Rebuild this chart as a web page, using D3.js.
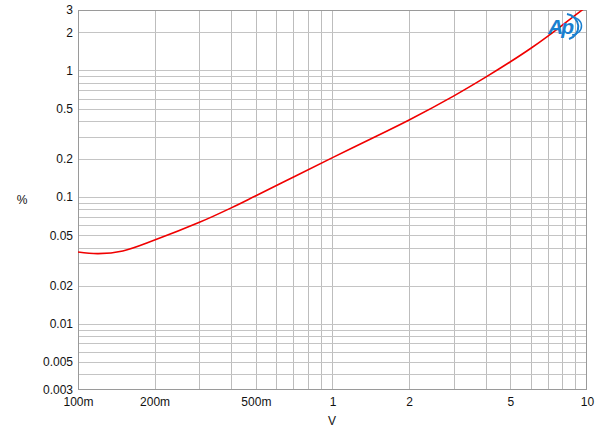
<!DOCTYPE html>
<html><head><meta charset="utf-8">
<script src="https://cdn.jsdelivr.net/npm/d3@7"></script>
<style>html,body{margin:0;padding:0;background:#fff;}svg{display:block;font-family:Arial,"Liberation Sans",sans-serif;}</style>
</head><body>
<svg id="c" width="600" height="435"></svg>
<script>
const voltage = [0.1, 0.12, 0.15, 0.2, 0.3, 0.4, 0.5, 0.7, 1, 1.5, 2, 3, 4, 5, 6, 7, 8, 9, 10];
const thdPercent = [0.0369, 0.0358, 0.0376, 0.0458, 0.0632, 0.0822, 0.1025, 0.1435, 0.205, 0.305, 0.406, 0.63, 0.885, 1.17, 1.49, 1.86, 2.28, 2.73, 3.21];
const xTickValues = [0.1, 0.2, 0.5, 1, 2, 5, 10];
const xTickLabels = ["100m", "200m", "500m", "1", "2", "5", "10"];
const yTickValues = [0.003, 0.005, 0.01, 0.02, 0.05, 0.1, 0.2, 0.5, 1, 2, 3];
const yTickLabels = ["0.003", "0.005", "0.01", "0.02", "0.05", "0.1", "0.2", "0.5", "1", "2", "3"];

const L = 78, R = 587, T = 10, B = 390;
const svg = d3.select("#c");
const x = d3.scaleLog().domain([0.1, 10]).range([L, R]);
const y = d3.scaleLog().domain([0.003, 3]).range([B, T]);

// grid values
const xGrid = [];
for (let d = 0.1; d < 10; d *= 10) for (let k = 1; k <= 9; k++) { const v = +(d * k).toPrecision(3); if (v > 0.1 && v < 10) xGrid.push(v); }
const yGrid = [];
for (let d = 0.001; d < 3; d *= 10) for (let k = 1; k <= 9; k++) { const v = +(d * k).toPrecision(3); if (v > 0.003 && v < 3) yGrid.push(v); }

const g = svg.append("g");
g.selectAll(".vx").data(xGrid).join("line")
  .attr("x1", d => Math.round(x(d)) + 0.5).attr("x2", d => Math.round(x(d)) + 0.5)
  .attr("y1", T).attr("y2", B).attr("stroke", "#bdbdbd").attr("stroke-width", 1);
g.selectAll(".hy").data(yGrid).join("line")
  .attr("y1", d => Math.round(y(d)) + 0.5).attr("y2", d => Math.round(y(d)) + 0.5)
  .attr("x1", L).attr("x2", R).attr("stroke", "#c4c4c4").attr("stroke-width", 1);

// frame
svg.append("rect").attr("x", L + 0.5).attr("y", T + 0.5).attr("width", R - L - 1).attr("height", B - T - 1)
  .attr("fill", "none").attr("stroke", "#9a9a9a").attr("stroke-width", 1);

// axes labels via d3 axes
const xAxis = d3.axisBottom(x).tickValues(xTickValues).tickFormat((d, i) => xTickLabels[i]).tickSize(0).tickPadding(7);
const xa = svg.append("g").attr("transform", `translate(0,${B})`).call(xAxis);
xa.select(".domain").remove();
xa.selectAll("text").attr("font-size", 12).attr("fill", "#111").attr("font-family", "Arial, 'Liberation Sans', sans-serif");

const yAxis = d3.axisLeft(y).tickValues(yTickValues).tickFormat((d, i) => yTickLabels[i]).tickSize(0).tickPadding(5);
const ya = svg.append("g").attr("transform", `translate(${L},0)`).call(yAxis);
ya.select(".domain").remove();
ya.selectAll("text").attr("font-size", 12).attr("fill", "#111").attr("font-family", "Arial, 'Liberation Sans', sans-serif");

svg.append("text").attr("x", 22).attr("y", 204).attr("text-anchor", "middle").attr("font-size", 12).attr("fill", "#111").text("%");
svg.append("text").attr("x", 332).attr("y", 425).attr("text-anchor", "middle").attr("font-size", 12).attr("fill", "#111").text("V");

// curve
svg.append("clipPath").attr("id", "clip").append("rect").attr("x", L).attr("y", T).attr("width", R - L).attr("height", B - T);
const line = d3.line().x((d, i) => x(voltage[i])).y(d => y(d)).curve(d3.curveCatmullRom.alpha(0.5));
svg.append("path").datum(thdPercent).attr("clip-path", "url(#clip)")
  .attr("d", line).attr("fill", "none").attr("stroke", "#f00000").attr("stroke-width", 1.6);

// logo
const logo = svg.append("g").attr("transform", "translate(565,27)");
logo.append("path").attr("d", "M 2,-13 A 14,13 0 0 1 4,12").attr("fill", "none").attr("stroke", "#1a7fcf").attr("stroke-width", 2);
logo.append("path").attr("d", "M 6,-10 A 10,9 0 0 1 7,8").attr("fill", "none").attr("stroke", "#1a7fcf").attr("stroke-width", 1.5);
logo.append("text").attr("x", -5).attr("y", 7).attr("text-anchor", "middle").attr("font-size", 21)
  .attr("font-style", "italic").attr("font-weight", "bold").attr("fill", "#1a7fcf").attr("letter-spacing", -2).text("Ap");
</script>
</body></html>
